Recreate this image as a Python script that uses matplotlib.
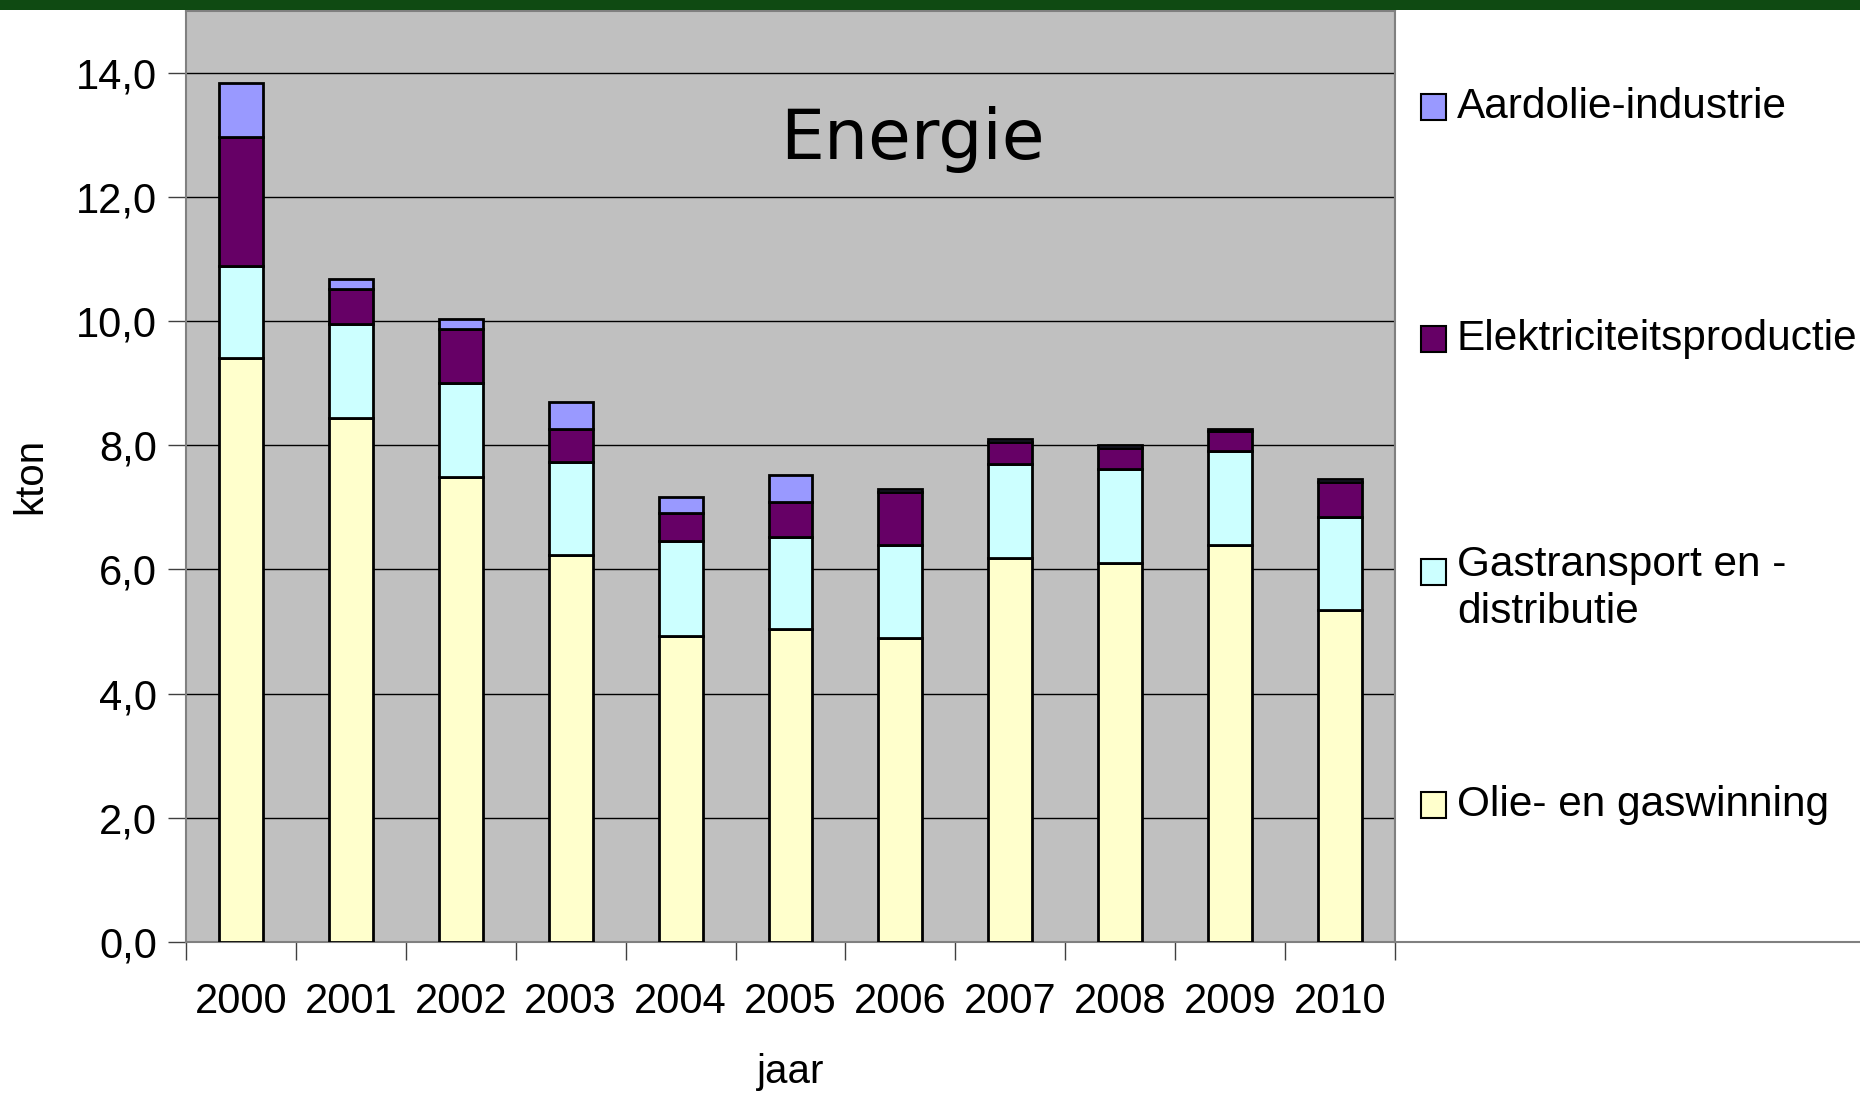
import matplotlib
matplotlib.use('Agg')
import matplotlib.pyplot as plt
from matplotlib.patches import Rectangle
from matplotlib.ticker import FuncFormatter, MultipleLocator
import numpy as np

years = ['2000', '2001', '2002', '2003', '2004', '2005', '2006', '2007', '2008', '2009', '2010']
olie_gaswinning = [9.40, 8.44, 7.49, 6.23, 4.93, 5.04, 4.89, 6.19, 6.11, 6.40, 5.35]
gastransport = [1.49, 1.51, 1.51, 1.50, 1.53, 1.49, 1.51, 1.51, 1.51, 1.51, 1.49]
elektriciteit = [2.08, 0.57, 0.87, 0.54, 0.45, 0.56, 0.84, 0.36, 0.34, 0.32, 0.57]
aardolie = [0.86, 0.16, 0.16, 0.42, 0.25, 0.43, 0.05, 0.04, 0.04, 0.03, 0.04]

series_names = ['Olie- en gaswinning', 'Gastransport en -\ndistributie',
                'Elektriciteitsproductie', 'Aardolie-industrie']
series_colors = ['#FFFFCC', '#CCFFFF', '#660066', '#9999FF']

plt.rcParams['font.family'] = ['Liberation Sans', 'DejaVu Sans']

fig = plt.figure(figsize=(18.6, 10.97), dpi=100)

# green band at the top
fig.patches.append(Rectangle((0, 1 - 10 / 1097), 1, 10 / 1097, transform=fig.transFigure,
                             facecolor='#0F4A12', edgecolor='none', zorder=0))

ax = fig.add_axes([0.1, 0.1413, 0.65, 0.849])
ax.set_facecolor('#C0C0C0')

x = np.arange(len(years))
bottom = np.zeros(len(years))
for values, color in zip([olie_gaswinning, gastransport, elektriciteit, aardolie], series_colors):
    ax.bar(x, values, width=0.4, bottom=bottom, color=color, edgecolor='black', linewidth=2.0, zorder=3)
    bottom += np.array(values)

ax.set_xlim(-0.5, len(years) - 0.5)
ax.set_ylim(0, 15)
ax.yaxis.set_major_locator(MultipleLocator(2))
ax.yaxis.set_major_formatter(FuncFormatter(lambda v, _: f"{v:.1f}".replace('.', ',')))
ax.grid(axis='y', color='black', linewidth=1.0, zorder=1)
ax.set_axisbelow(True)

ax.set_xticks(x)
ax.set_xticklabels(years)
ax.set_xticks(np.arange(-0.5, len(years)), minor=True)
ax.tick_params(axis='x', which='major', length=0, pad=29, labelsize=30)
ax.tick_params(axis='x', which='minor', length=13, width=1, color='#404040', direction='out')
ax.tick_params(axis='y', length=13, width=1, color='#404040', pad=8, labelsize=30)

for side in ['left', 'bottom', 'right', 'top']:
    ax.spines[side].set_color('#808080')
    ax.spines[side].set_linewidth(1.5)

ax.set_ylabel('kton', fontsize=29, va='center')
ax.yaxis.set_label_coords(-0.129, 0.5)
ax.set_xlabel('jaar', fontsize=29, labelpad=22)

ax.text(0.601, 0.862, 'Energie', transform=ax.transAxes, ha='center', va='center',
        fontsize=50, family='DejaVu Sans')

# legend box on the right
leg = fig.add_axes([0.75, 0.1413, 0.25, 0.849])
leg.set_xlim(0, 1)
leg.set_ylim(0, 1)
leg.set_xticks([])
leg.set_yticks([])
for side in ['top', 'right']:
    leg.spines[side].set_visible(False)
for side in ['left', 'bottom']:
    leg.spines[side].set_color('#808080')
    leg.spines[side].set_linewidth(1.5)

legend_y = [0.147, 0.397, 0.647, 0.897]
for name, color, yc in zip(series_names, series_colors, legend_y):
    leg.add_patch(Rectangle((0.056, yc - 0.014), 0.054, 0.028, facecolor=color,
                            edgecolor='black', linewidth=1.5))
    if '\n' in name:
        leg.text(0.133, yc + 0.029, name, ha='left', va='top', fontsize=30.5, linespacing=1.22)
    else:
        leg.text(0.133, yc, name, ha='left', va='center', fontsize=30.5)

fig.savefig('out.png', dpi=100)
